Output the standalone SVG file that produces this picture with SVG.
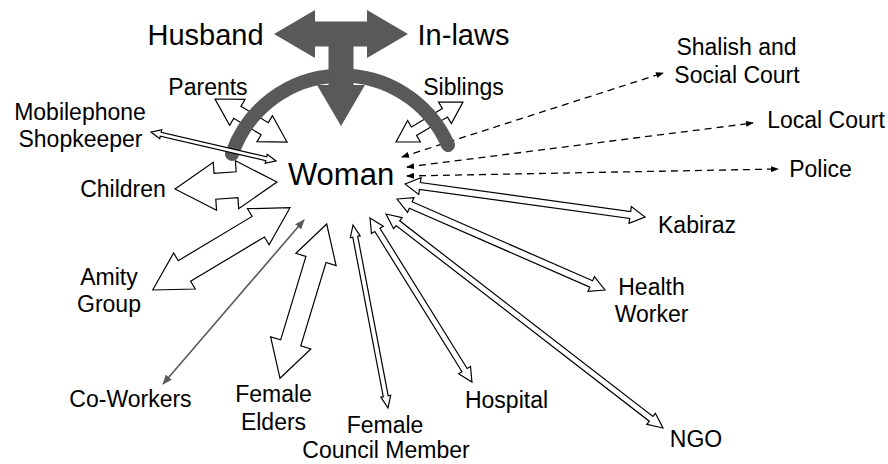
<svg xmlns="http://www.w3.org/2000/svg" width="888" height="464" viewBox="0 0 888 464">
<style>
text{font-family:"Liberation Sans",Arial,sans-serif;fill:#000;text-anchor:middle}
.lbl{font-size:23px}
.big{font-size:29px}
.blk{fill:#fff;stroke:#000;stroke-width:1.2;stroke-linejoin:miter}
.dash{fill:none;stroke:#000;stroke-width:1.3;stroke-dasharray:7 5}
.gray{fill:#595959}
</style>
<defs>
<marker id="dh" markerUnits="userSpaceOnUse" markerWidth="8" markerHeight="6" refX="7" refY="3" orient="auto-start-reverse" viewBox="0 0 8 6">
<path d="M0,0 L8,3 L0,6 z" fill="#000"/>
</marker>
<marker id="gh" markerUnits="userSpaceOnUse" markerWidth="10" markerHeight="8" refX="9" refY="4" orient="auto-start-reverse" viewBox="0 0 10 8">
<path d="M0,0 L10,4 L0,8 z" fill="#595959"/>
</marker>
</defs>
<rect width="888" height="464" fill="#fff"/>
<g id="connectors">
<polygon class="blk" transform="translate(215,99) rotate(30.85)" points="0,0 26,-15 26,-7 57.9,-7 57.9,-15 83.9,0 57.9,15 57.9,7 26,7 26,15"/>
<polygon class="blk" transform="translate(396,142) rotate(-30.84)" points="0,0 21,-12.5 21,-5 57,-5 57,-12.5 78,0 57,12.5 57,5 21,5 21,12.5"/>
<polygon class="blk" transform="translate(175,189) rotate(-3.93)" points="0,0 40,-24 40,-13 62.2,-13 62.2,-24 102.2,0 62.2,24 62.2,13 40,13 40,24"/>
<polygon class="blk" transform="translate(152.7,290) rotate(-30.94)" points="0,0 37,-21 37,-12 123.1,-12 123.1,-21 160.1,0 123.1,21 123.1,12 37,12 37,21"/>
<polygon class="blk" transform="translate(280,378.3) rotate(-73.16)" points="0,0 37,-21 37,-10.5 124.2,-10.5 124.2,-21 161.2,0 124.2,21 124.2,10.5 37,10.5 37,21"/>
<polygon class="blk" transform="translate(353,225) rotate(79.17)" points="0,0 12,-5 12,-2.5 174.3,-2.5 174.3,-5 186.3,0 174.3,5 174.3,2.5 12,2.5 12,5"/>
<polygon class="blk" transform="translate(370,218) rotate(58.13)" points="0,0 14,-7 14,-3 179.1,-3 179.1,-7 193.1,0 179.1,7 179.1,3 14,3 14,7"/>
<polygon class="blk" transform="translate(386,214) rotate(37.69)" points="0,0 15,-7 15,-3 335,-3 335,-7 350,0 335,7 335,3 15,3 15,7"/>
<polygon class="blk" transform="translate(397,199) rotate(23.63)" points="0,0 15,-8 15,-3.5 212,-3.5 212,-8 227,0 212,8 212,3.5 15,3.5 15,8"/>
<polygon class="blk" transform="translate(405,184) rotate(7.83)" points="0,0 15,-8.5 15,-3.5 227.3,-3.5 227.3,-8.5 242.3,0 227.3,8.5 227.3,3.5 15,3.5 15,8.5"/>
<line x1="163" y1="384" x2="304" y2="220" stroke="#595959" stroke-width="1.6" marker-start="url(#gh)" marker-end="url(#gh)"/>
<line class="dash" x1="402" y1="157" x2="663" y2="73" marker-start="url(#dh)" marker-end="url(#dh)"/>
<line class="dash" x1="407" y1="167" x2="753" y2="123" marker-start="url(#dh)" marker-end="url(#dh)"/>
<line class="dash" x1="407" y1="176" x2="778" y2="169" marker-start="url(#dh)" marker-end="url(#dh)"/>
<path d="M232,154 A116 116 0 0 1 448,145" fill="none" stroke="#595959" stroke-width="14" stroke-linecap="round"/>
<polygon class="gray" points="274,34 315,10 315,21.5 367,21.5 367,10 408,34 367,58 367,46.5 353.5,46.5 353.5,85 365,85 341,126 317,85 328.5,85 328.5,46.5 315,46.5 315,58"/>
<polygon class="blk" transform="translate(151,132) rotate(13.06)" points="0,0 10,-4.5 10,-2 118.3,-2 118.3,-4.5 128.3,0 118.3,4.5 118.3,2 10,2 10,4.5"/>
</g>
<g id="husband"><text class="big" x="205.5" y="45">Husband</text></g>
<g id="inlaws"><text class="big" x="463.5" y="45">In-laws</text></g>
<g id="woman"><text x="341" y="185" style="font-size:31px">Woman</text></g>
<g id="parents"><text class="lbl" x="208" y="95">Parents</text></g>
<g id="siblings"><text class="lbl" x="463.5" y="95">Siblings</text></g>
<g id="mobilephone"><text class="lbl" x="80" y="120">Mobilephone</text><text class="lbl" x="80.5" y="147">Shopkeeper</text></g>
<g id="children"><text class="lbl" x="123" y="197">Children</text></g>
<g id="amity"><text class="lbl" x="109" y="285">Amity</text><text class="lbl" x="109" y="312">Group</text></g>
<g id="coworkers"><text class="lbl" x="130.5" y="407">Co-Workers</text></g>
<g id="elders"><text class="lbl" x="273.5" y="402">Female</text><text class="lbl" x="273.5" y="430">Elders</text></g>
<g id="council"><text class="lbl" x="385" y="433">Female</text><text class="lbl" x="386" y="458">Council Member</text></g>
<g id="hospital"><text class="lbl" x="506.5" y="408">Hospital</text></g>
<g id="ngo"><text class="lbl" x="696" y="447">NGO</text></g>
<g id="health"><text class="lbl" x="651.5" y="295">Health</text><text class="lbl" x="651.5" y="322">Worker</text></g>
<g id="kabiraz"><text class="lbl" x="697" y="233">Kabiraz</text></g>
<g id="shalish"><text class="lbl" x="736.5" y="55">Shalish and</text><text class="lbl" x="737" y="83">Social Court</text></g>
<g id="localcourt"><text class="lbl" x="826" y="128">Local Court</text></g>
<g id="police"><text class="lbl" x="820.5" y="177">Police</text></g>
</svg>
